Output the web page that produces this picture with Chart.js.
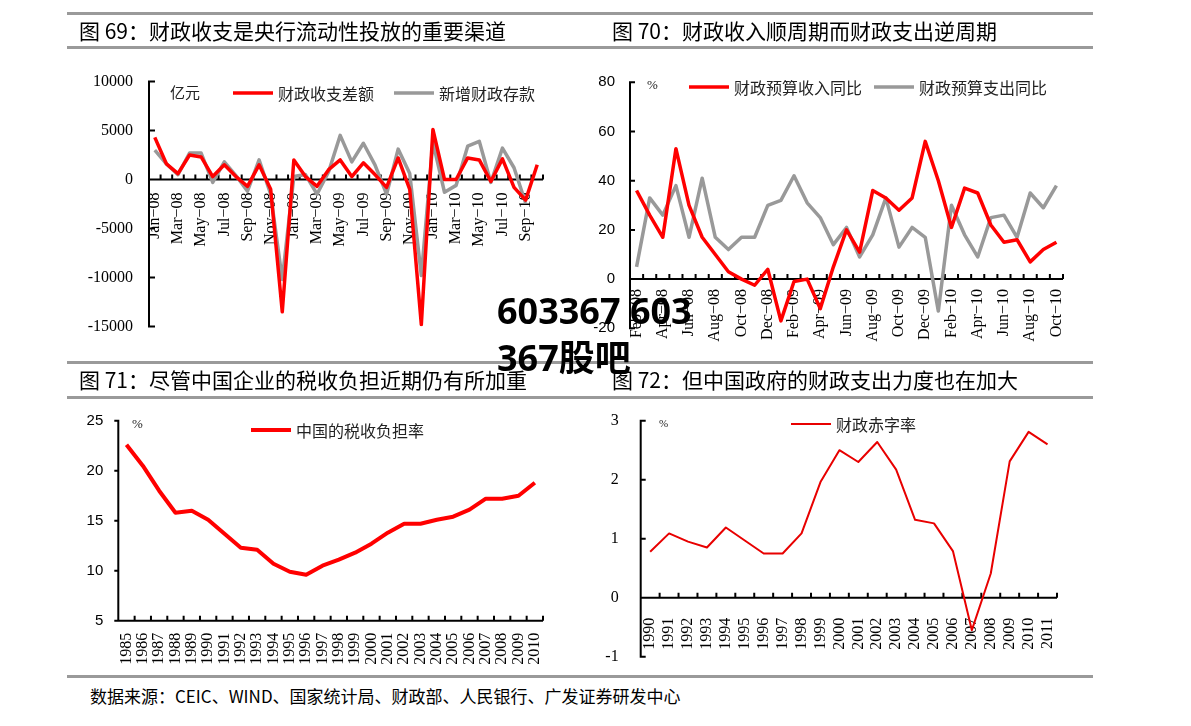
<!DOCTYPE html>
<html>
<head>
<meta charset="utf-8">
<script src="https://cdn.jsdelivr.net/npm/chart.js@4.4.0/dist/chart.umd.min.js"></script>
<style>
  body { margin: 0; width: 1191px; height: 726px; background: #fff; position: relative; overflow: hidden;
         font-family: "Noto Sans CJK SC", sans-serif; }
  canvas { position: absolute; left: 0; top: 0; }
  .rule { position: absolute; left: 67px; width: 1026px; height: 3px; background: #9a9a9a; }
  .title { position: absolute; font-size: 21px; line-height: 21px; color: #000; white-space: nowrap; z-index: 2; }
  .src { position: absolute; left: 90px; top: 686px; font-size: 17px; line-height: 20px; color: #000; white-space: nowrap; }
  .wm { position: absolute; left: 497px; font-family: "Noto Sans", "Noto Sans CJK SC", sans-serif; font-weight: bold;
        font-size: 36px; line-height: 40px; color: #000; white-space: nowrap; z-index: 3; }
</style>
</head>
<body>
<div class="rule" style="top:12px"></div>
<div class="rule" style="top:46px"></div>
<div class="rule" style="top:361px"></div>
<div class="rule" style="top:396px"></div>
<div class="rule" style="top:675px"></div>
<div class="title" style="left:79px;top:20px">图 69：财政收支是央行流动性投放的重要渠道</div>
<div class="title" style="left:612px;top:20px">图 70：财政收入顺周期而财政支出逆周期</div>
<div class="title" style="left:79px;top:369px">图 71：尽管中国企业的税收负担近期仍有所加重</div>
<div class="title" style="left:612px;top:369px">图 72：但中国政府的财政支出力度也在加大</div>
<div class="src">数据来源：CEIC、WIND、国家统计局、财政部、人民银行、广发证券研发中心</div>
<div class="wm" style="top:291px">603367 603</div>
<div class="wm" style="top:338px">367股吧</div>

<canvas id="c69" width="1191" height="726"></canvas>
<canvas id="c70" width="1191" height="726"></canvas>
<canvas id="c71" width="1191" height="726"></canvas>
<canvas id="c72" width="1191" height="726"></canvas>

<script>
// 图69 财政收支差额 / 新增财政存款 (亿元)
const months69 = ['Jan−08','Feb−08','Mar−08','Apr−08','May−08','Jun−08','Jul−08','Aug−08','Sep−08','Oct−08','Nov−08','Dec−08',
                  'Jan−09','Feb−09','Mar−09','Apr−09','May−09','Jun−09','Jul−09','Aug−09','Sep−09','Oct−09','Nov−09','Dec−09',
                  'Jan−10','Feb−10','Mar−10','Apr−10','May−10','Jun−10','Jul−10','Aug−10','Sep−10','Oct−10'];
const balance69 = [4300, 1600, 600, 2500, 2300, 300, 1500, 300, -700, 1500, -1000, -13500,
                   2000, 300, -700, 1000, 2000, 300, 1700, 500, -800, 2200, -1000, -14800,
                   5100, 0, 0, 2200, 2000, -200, 2100, -800, -2100, 1500];
const deposit69 = [3000, 1600, 500, 2700, 2700, -300, 1800, 400, -1200, 2000, -1500, -10200,
                   300, 500, -1500, 800, 4500, 1800, 3700, 1500, -1500, 3100, 600, -9800,
                   3800, -1300, -600, 3400, 3900, -300, 3200, 1200, -2400, null];

// 图70 财政预算收入/支出同比 (%)
const months70 = ['Feb−08','Mar−08','Apr−08','May−08','Jun−08','Jul−08','Aug−08','Sep−08','Oct−08','Nov−08','Dec−08',
                  'Jan−09','Feb−09','Mar−09','Apr−09','May−09','Jun−09','Jul−09','Aug−09','Sep−09','Oct−09','Nov−09','Dec−09',
                  'Jan−10','Feb−10','Mar−10','Apr−10','May−10','Jun−10','Jul−10','Aug−10','Sep−10','Oct−10'];
const revenue70 = [36, 26, 17, 53, 30, 17, 10, 3, 0, -2.5, 4, -17, -1, 0, -12, 5, 20, 11,
                   36, 33, 28, 33, 56, 40, 21, 37, 35, 22, 15, 16, 7, 12, 15];
const spending70 = [5, 33, 26, 38, 17, 41, 17, 12, 17, 17, 30, 32, 42, 31, 25, 14, 21, 9,
                    18, 33, 13, 21, 17, -13, 30, 18, 9, 25, 26, 17, 35, 29, 38];

// 图71 中国的税收负担率 (%)
const years71 = ['1985','1986','1987','1988','1989','1990','1991','1992','1993','1994','1995','1996','1997',
                 '1998','1999','2000','2001','2002','2003','2004','2005','2006','2007','2008','2009','2010'];
const taxBurden71 = [22.6, 20.5, 18.0, 15.8, 16.0, 15.1, 13.7, 12.3, 12.1, 10.7, 9.9, 9.6, 10.5,
                     11.1, 11.8, 12.7, 13.8, 14.7, 14.7, 15.1, 15.4, 16.1, 17.2, 17.2, 17.5, 18.8];

// 图72 财政赤字率 (%)
const years72 = ['1990','1991','1992','1993','1994','1995','1996','1997','1998','1999','2000',
                 '2001','2002','2003','2004','2005','2006','2007','2008','2009','2010','2011'];
const deficit72 = [0.78, 1.09, 0.95, 0.85, 1.19, 0.97, 0.75, 0.75, 1.09, 1.96, 2.50,
                   2.30, 2.64, 2.17, 1.32, 1.26, 0.79, -0.55, 0.41, 2.31, 2.81, 2.60];

const RED = '#ff0000';
const GREY = '#999999';
const SERIF = '"Liberation Serif", "Times New Roman", serif';
const SANS = '"Liberation Sans", Arial, sans-serif';
const CJK = '"Noto Sans CJK SC", sans-serif';

// axis lines, tick marks, legend and unit label
const axisDeco = {
    id: 'axisDeco',
    beforeDatasetsDraw(chart, args, o) {
        const { ctx, chartArea: a } = chart;
        const x = chart.scales.x, y = chart.scales.y;
        const y0 = y.getPixelForValue(o.xAt);
        const half = (x.getPixelForValue(1) - x.getPixelForValue(0)) / 2;
        ctx.save();
        ctx.strokeStyle = '#000';
        ctx.lineWidth = 2;
        ctx.beginPath();
        ctx.moveTo(a.left, a.top - 1);
        ctx.lineTo(a.left, a.bottom + 1);
        ctx.moveTo(a.left, y0);
        ctx.lineTo(a.right, y0);
        y.ticks.forEach(t => {
            const py = y.getPixelForValue(t.value);
            ctx.moveTo(a.left, py);
            ctx.lineTo(a.left + o.yTick, py);
        });
        for (let i = 0; i <= x.ticks.length; i++) {
            const px = x.getPixelForValue(i) - half;
            ctx.moveTo(px, y0);
            ctx.lineTo(px, y0 - 5);
        }
        ctx.stroke();
        ctx.restore();
    },
    afterDraw(chart, args, o) {
        const ctx = chart.ctx;
        ctx.save();
        ctx.textBaseline = 'middle';
        ctx.fillStyle = '#222';
        ctx.font = o.unitFont;
        ctx.fillText(o.unit, o.unitX, o.unitY);
        ctx.font = '16px ' + CJK;
        let lx = o.legendX;
        chart.data.datasets.forEach(ds => {
            ctx.strokeStyle = ds.borderColor;
            ctx.lineWidth = ds.borderWidth;
            ctx.beginPath();
            ctx.moveTo(lx, o.legendY);
            ctx.lineTo(lx + 40, o.legendY);
            ctx.stroke();
            ctx.fillText(ds.label, lx + 45, o.legendY + 1);
            lx += 45 + ctx.measureText(ds.label).width + o.legendGap;
        });
        ctx.restore();
    }
};

function makeChart(id, cfg) {
    const area = cfg.area; // [left, top, right, bottom] of plot area on the page
    return new Chart(document.getElementById(id), {
        type: 'line',
        data: { labels: cfg.labels, datasets: cfg.datasets },
        plugins: [axisDeco],
        options: {
            responsive: false,
            animation: false,
            devicePixelRatio: 1,
            layout: { padding: { left: area[0] - 70, top: area[1], right: 1191 - area[2], bottom: 726 - area[3] } },
            elements: { point: { radius: 0 }, line: { tension: 0, borderJoinStyle: 'round' } },
            plugins: {
                legend: { display: false },
                tooltip: { enabled: false },
                axisDeco: cfg.deco
            },
            scales: {
                x: {
                    type: 'category',
                    offset: true,
                    position: { y: cfg.xAt },
                    grid: { display: false, drawTicks: false },
                    border: { display: false },
                    ticks: {
                        autoSkip: false,
                        minRotation: 90,
                        maxRotation: 90,
                        padding: cfg.xPad,
                        color: '#000',
                        font: { family: SERIF, size: 16 },
                        callback: function (v, i) { return i % cfg.every ? '' : this.getLabelForValue(v); }
                    }
                },
                y: {
                    min: cfg.yMin,
                    max: cfg.yMax,
                    grid: { display: false, drawTicks: false },
                    border: { display: false },
                    afterFit: s => { s.width = 70; },
                    ticks: { stepSize: cfg.yStep, padding: cfg.yPad, color: '#000', font: cfg.yFont,
                             callback: v => String(v) }
                }
            }
        }
    });
}

makeChart('c69', {
    area: [149, 81.5, 543, 326.5],
    labels: months69,
    xAt: 0, xPad: 13, every: 2,
    yMin: -15000, yMax: 10000, yStep: 5000, yPad: 16, yFont: { family: SERIF, size: 16 },
    datasets: [
        { label: '财政收支差额', data: balance69, borderColor: RED, borderWidth: 3.5 },
        { label: '新增财政存款', data: deposit69, borderColor: GREY, borderWidth: 3.5 }
    ],
    deco: { xAt: 0, yTick: 6, unit: '亿元', unitX: 170, unitY: 92, unitFont: '15px ' + CJK,
            legendX: 233, legendY: 93, legendGap: 20 }
});

makeChart('c70', {
    area: [630, 82.3, 1063, 328.3],
    labels: months70,
    xAt: 0, xPad: 10, every: 2,
    yMin: -20, yMax: 80, yStep: 20, yPad: 15, yFont: { family: SANS, size: 15 },
    datasets: [
        { label: '财政预算收入同比', data: revenue70, borderColor: RED, borderWidth: 3.5 },
        { label: '财政预算支出同比', data: spending70, borderColor: GREY, borderWidth: 3.5 }
    ],
    deco: { xAt: 0, yTick: 5, unit: '%', unitX: 647, unitY: 86, unitFont: '13px ' + SERIF,
            legendX: 689, legendY: 87, legendGap: 12 }
});

makeChart('c71', {
    area: [118.3, 420.7, 543, 620.7],
    labels: years71,
    xAt: 5, xPad: 12, every: 1,
    yMin: 5, yMax: 25, yStep: 5, yPad: 15, yFont: { family: SANS, size: 15 },
    datasets: [
        { label: '中国的税收负担率', data: taxBurden71, borderColor: RED, borderWidth: 4 }
    ],
    deco: { xAt: 5, yTick: -4, unit: '%', unitX: 132, unitY: 425, unitFont: '13px ' + SERIF,
            legendX: 251, legendY: 430, legendGap: 12 }
});

makeChart('c72', {
    area: [640.7, 420.7, 1057, 656.7],
    labels: years72,
    xAt: 0, xPad: 20, every: 1,
    yMin: -1, yMax: 3, yStep: 1, yPad: 22, yFont: { family: SERIF, size: 16 },
    datasets: [
        { label: '财政赤字率', data: deficit72, borderColor: '#e80000', borderWidth: 2 }
    ],
    deco: { xAt: 0, yTick: 5, unit: '%', unitX: 659, unitY: 424, unitFont: '11px ' + SERIF,
            legendX: 791, legendY: 424, legendGap: 12 }
});
</script>
</body>
</html>
